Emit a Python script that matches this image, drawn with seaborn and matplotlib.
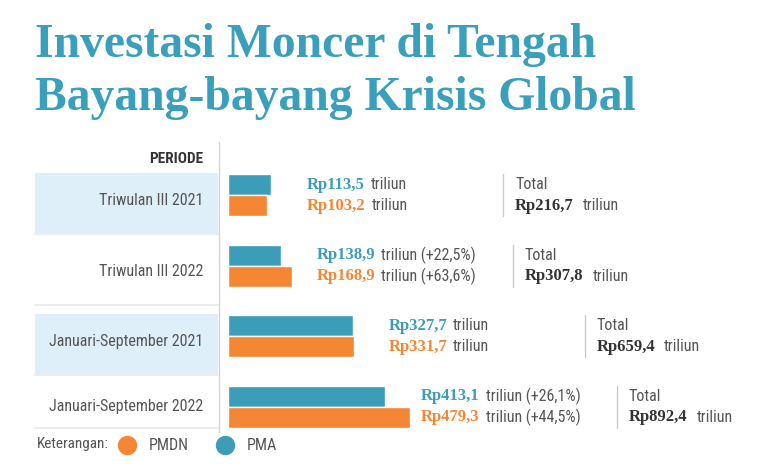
import pandas as pd
import matplotlib
matplotlib.use("Agg")
import matplotlib.pyplot as plt
import matplotlib.transforms as mtransforms
from matplotlib import font_manager
from matplotlib.lines import Line2D
from matplotlib.patches import Rectangle
import seaborn as sns

# === DATA ===
periode = ["Triwulan III 2021", "Triwulan III 2022",
           "Januari-September 2021", "Januari-September 2022"]
pma = [113.5, 138.9, 327.7, 413.1]
pmdn = [103.2, 168.9, 331.7, 479.3]
pma_tumbuh = [None, 22.5, None, 26.1]
pmdn_tumbuh = [None, 63.6, None, 44.5]

TEAL = "#3c9db8"
ORANGE = "#f58634"
TITLE = "#3a9fbb"
GREY = "#555555"
DARK = "#333333"

# pick fonts that are actually installed
installed = {f.name for f in font_manager.fontManager.ttflist}
narrow = next((f for f in ["Liberation Sans Narrow", "Roboto Condensed",
                           "Open Sans Condensed", "Liberation Sans"] if f in installed),
              "DejaVu Sans")
serif = "Liberation Serif" if "Liberation Serif" in installed else "DejaVu Serif"

sns.set_theme(style="white")
plt.rcParams["font.family"] = [narrow, "DejaVu Sans"]

df = pd.DataFrame({
    "periode": periode * 2,
    "jenis": ["PMA"] * len(pma) + ["PMDN"] * len(pmdn),
    "nilai": pma + pmdn,
})


def fmt(v):
    return f"{v:.1f}".replace(".", ",")


W, H = 761, 474
fig = plt.figure(figsize=(W / 100, H / 100), dpi=100)


def fx(px):
    return px / W


def fy(py):
    return 1 - py / H


# === TITLE ===
fig.text(fx(35), fy(57), "Investasi Moncer di Tengah", fontsize=34.3,
         fontfamily=serif, fontweight="bold", color=TITLE, va="baseline")
fig.text(fx(35), fy(110), "Bayang-bayang Krisis Global", fontsize=34.3,
         fontfamily=serif, fontweight="bold", color=TITLE, va="baseline")

# === BARS ===
ax = fig.add_axes([fx(228), fy(442), fx(W - 228), (442 - 160) / H])
sns.barplot(data=df, y="periode", x="nilai", hue="jenis",
            hue_order=["PMA", "PMDN"], order=periode,
            palette={"PMA": TEAL, "PMDN": ORANGE}, orient="h",
            width=0.6, saturation=1, errorbar=None, legend=False, ax=ax)
ax.set_xlim(0, (W - 228) / 0.38)
ax.set_ylim(len(periode) - 0.5, -0.5)
ax.axis("off")

# === LEFT TABLE ===
blend = mtransforms.blended_transform_factory(fig.transFigure, ax.transData)
fig.text(fx(203), fy(159), "PERIODE", ha="right", va="center",
         fontsize=11, fontweight="bold", color=DARK)
for i, p in enumerate(periode):
    bawah = i + 0.55 if i < len(periode) - 1 else i + 0.3
    if i % 2 == 0:
        ax.add_patch(Rectangle((fx(35), i - 0.32), fx(218) - fx(35), bawah - (i - 0.32),
                               transform=blend, facecolor="#dfeffa",
                               edgecolor="none", clip_on=False, zorder=0))
    ax.add_line(Line2D([fx(35), fx(218)], [bawah, bawah], transform=blend,
                       color="#ececec", lw=1.5, clip_on=False))
    ax.text(fx(203), i + (0.08 if i < len(periode) - 1 else 0.0), p,
            transform=blend, ha="right", va="center",
            fontsize=11.5, color=GREY)

fig.add_artist(Line2D([fx(219), fx(219)], [fy(142), fy(432)],
                      color="#d5d5d5", lw=1))

# === VALUE LABELS AND TOTALS ===
# labels are anchored to the end of the PMA bar
for i in range(len(periode)):
    x0 = pma[i]
    rows = [(pma[i], pma_tumbuh[i], TEAL, -0.15),
            (pmdn[i], pmdn_tumbuh[i], ORANGE, 0.15)]
    for val, tumbuh, color, dy in rows:
        t1 = ax.annotate(f"Rp{fmt(val)}", xy=(x0, i + dy), xytext=(36, 0),
                         textcoords="offset pixels", fontfamily=serif,
                         fontweight="bold", color=color, fontsize=12,
                         ha="left", va="center")
        suffix = "triliun" + (f" (+{fmt(tumbuh)}%)" if tumbuh else "")
        ax.annotate(suffix, xy=(1, 0.5), xycoords=t1, xytext=(6, 0),
                    textcoords="offset pixels", color=GREY, fontsize=11.5,
                    ha="left", va="center")

    sep = mtransforms.offset_copy(ax.transData, fig=fig, x=232, y=0, units="dots")
    ax.add_line(Line2D([x0, x0], [i - 0.3, i + 0.3], transform=sep,
                       color="#cccccc", lw=1, clip_on=False))
    ax.annotate("Total", xy=(x0, i - 0.15), xytext=(244, 0),
                textcoords="offset pixels", color=GREY, fontsize=11.5,
                ha="left", va="center")
    t2 = ax.annotate(f"Rp{fmt(pma[i] + pmdn[i])}", xy=(x0, i + 0.15),
                     xytext=(244, 0), textcoords="offset pixels",
                     fontfamily=serif, fontweight="bold", color=DARK,
                     fontsize=12, ha="left", va="center")
    ax.annotate("triliun", xy=(1, 0.5), xycoords=t2, xytext=(9, 0),
                textcoords="offset pixels", color=GREY, fontsize=11.5,
                ha="left", va="center")

# === LEGEND ===
fig.text(fx(37), fy(444), "Keterangan:", ha="left", va="center",
         fontsize=11, color=GREY)
handles = [
    Line2D([], [], marker="o", ls="", markersize=14, markerfacecolor=ORANGE,
           markeredgecolor="none", label="PMDN"),
    Line2D([], [], marker="o", ls="", markersize=14, markerfacecolor=TEAL,
           markeredgecolor="none", label="PMA"),
]
leg = fig.legend(handles=handles, loc="center left",
                 bbox_to_anchor=(fx(117), fy(446)), ncol=2, frameon=False,
                 fontsize=11.5, handlelength=1.3, handletextpad=0.7,
                 columnspacing=1.6, borderpad=0, borderaxespad=0)
for t in leg.get_texts():
    t.set_color(GREY)

fig.savefig("out.png", dpi=100)
